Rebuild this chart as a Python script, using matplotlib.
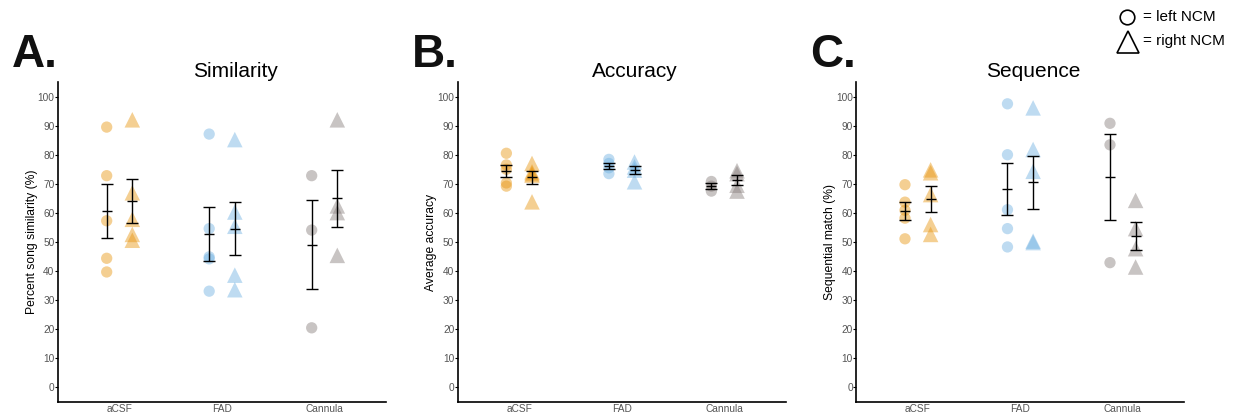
import numpy as np
import matplotlib
matplotlib.use('Agg')
import matplotlib.pyplot as plt
from matplotlib.lines import Line2D

plt.rcParams['font.family'] = ['Liberation Sans', 'DejaVu Sans']

GROUPS = ['aCSF', 'FAD', 'Cannula']
COLORS = ['#E8950F', '#6FB1E2', '#867C7A']
ALPHA = 0.45

# Similarity (%), per group: left NCM (circles), right NCM (triangles)
sim_left = [[89.5, 72.8, 57.3, 44.4, 39.7],
            [87.1, 54.6, 44.9, 44.2, 33.1],
            [72.8, 54.1, 20.5]]
sim_right = [[92.0, 66.9, 57.8, 52.6, 50.6],
             [85.2, 60.3, 55.4, 38.6, 33.6],
             [92.0, 62.4, 60.1, 45.4]]

# Accuracy
acc_left = [[80.5, 76.5, 75.0, 70.3, 69.2],
            [78.4, 77.0, 75.5, 73.5],
            [70.8, 69.2, 67.5]]
acc_right = [[77.0, 74.1, 73.5, 73.0, 63.8],
             [77.5, 75.8, 74.7, 70.7],
             [74.5, 73.5, 69.5, 67.5]]

# Sequential match (%)
seq_left = [[69.7, 63.7, 60.9, 58.2, 51.1],
            [97.5, 80.0, 61.1, 54.6, 48.3],
            [90.8, 83.4, 42.9]]
seq_right = [[74.8, 73.8, 66.3, 56.0, 52.6],
             [96.1, 81.8, 74.3, 50.3, 49.8],
             [64.3, 54.6, 47.7, 41.4]]

PANELS = [
    ('A.', 'Similarity', 'Percent song similarity (%)', sim_left, sim_right),
    ('B.', 'Accuracy', 'Average accuracy', acc_left, acc_right),
    ('C.', 'Sequence', 'Sequential match (%)', seq_left, seq_right),
]

W, H = 1243, 416
fig = plt.figure(figsize=(W / 100, H / 100), dpi=100)

lefts = [58, 457.7, 856.3]
ax_w = 328
ax_top, ax_bot = 82, 402
OFF = 0.125


def mean_sem(v):
    v = np.asarray(v, dtype=float)
    return v.mean(), v.std(ddof=1) / np.sqrt(len(v))


for (letter, title, ylabel, left_vals, right_vals), lx in zip(PANELS, lefts):
    ax = fig.add_axes([lx / W, 1 - ax_bot / H, ax_w / W, (ax_bot - ax_top) / H])
    for i, (lv, rv) in enumerate(zip(left_vals, right_vals)):
        xc = i + 1
        ax.scatter([xc - OFF] * len(lv), lv, s=66, marker='o', color=COLORS[i],
                   alpha=ALPHA, edgecolors='none', zorder=2)
        ax.scatter([xc + OFF] * len(rv), rv, s=125, marker='^', color=COLORS[i],
                   alpha=ALPHA, edgecolors='none', zorder=2)
        for xx, vals in ((xc - OFF, lv), (xc + OFF, rv)):
            m, se = mean_sem(vals)
            ax.errorbar([xx], [m], yerr=[se], fmt='none', ecolor='black',
                        elinewidth=1.0, capsize=4.6, capthick=1.0, zorder=3)
            ax.plot([xx], [m], marker='_', ms=7, mew=1.0, color='black', zorder=3)

    ax.set_xlim(0.4, 3.6)
    ax.set_ylim(-5, 105)
    ax.set_xticks([1, 2, 3])
    ax.set_xticklabels(GROUPS)
    ax.set_yticks(range(0, 101, 10))
    ax.tick_params(axis='y', labelsize=7.3, labelcolor='#555555', length=2,
                   width=0.8, pad=0.5)
    ax.tick_params(axis='x', labelsize=7.3, labelcolor='#555555', length=0,
                   pad=1.5)
    for sp in ('top', 'right'):
        ax.spines[sp].set_visible(False)
    for sp in ('left', 'bottom'):
        ax.spines[sp].set_linewidth(1.2)
    ax.set_ylabel(ylabel, fontsize=8.7, labelpad=0)
    ax.text(0.54, 1.016, title, transform=ax.transAxes, ha='center',
            va='baseline', fontsize=15)
    fig.text((lx - 46) / W, 1 - 67 / H, letter, fontsize=33, fontweight='bold',
             ha='left', va='baseline', color='#111111')

# shape key, top right
fig.add_artist(Line2D([1126.7 / W], [1 - 17.3 / H], marker='o', ms=10.5,
                      mfc='none', mec='black', mew=1.2, ls='none',
                      transform=fig.transFigure))
fig.add_artist(Line2D([1127.5 / W], [1 - 41.5 / H], marker='^', ms=16,
                      mfc='none', mec='black', mew=1.2, ls='none',
                      transform=fig.transFigure))
fig.text(1143 / W, 1 - 17.3 / H, '= left NCM', fontsize=11, va='center', ha='left')
fig.text(1143 / W, 1 - 41.5 / H, '= right NCM', fontsize=11, va='center', ha='left')

fig.savefig('out.png', dpi=100)
